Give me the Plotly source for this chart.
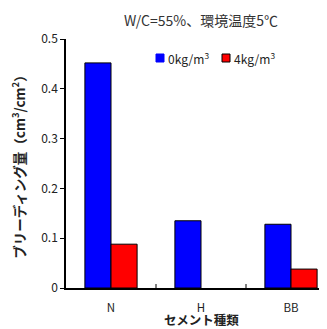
import plotly.graph_objects as go

categories = ["N", "H", "BB"]
series_0kg = [0.452, 0.135, 0.128]
series_4kg = [0.088, None, 0.038]
y_ticks = [0, 0.1, 0.2, 0.3, 0.4, 0.5]
y_tick_labels = ["0", "0.1", "0.2", "0.3", "0.4", "0.5"]
legend_labels = ["0kg/m<sup>3</sup>", "4kg/m<sup>3</sup>"]
x_title = "セメント種類"
colors = ["#0000FF", "#FF0000"]

font_main = "Noto Sans CJK JP, Noto Sans, sans-serif"

# page body has an 8px default margin; compensate so the plot lands where the reference has it
fig = go.Figure()
fig.add_trace(go.Bar(x=categories, y=series_0kg, name=legend_labels[0],
                     marker=dict(color=colors[0], line=dict(color="black", width=1))))
fig.add_trace(go.Bar(x=categories, y=series_4kg, name=legend_labels[1],
                     marker=dict(color=colors[1], line=dict(color="black", width=1))))

fig.update_layout(
    width=319, height=321,
    margin=dict(l=58, r=0, t=31, b=41, autoexpand=False),
    paper_bgcolor="white", plot_bgcolor="white",
    barmode="group", bargap=0.42, bargroupgap=0,
    font=dict(family=font_main, size=12, color="#222"),
    title=dict(text="W/C=55%、環境温度5℃", x=0.605, xanchor="center",
               y=1 - 13 / 321, yanchor="middle", font=dict(size=14, color="#333")),
    showlegend=False,
)
fig.update_xaxes(
    range=[-0.5, 2.4], showline=True, linecolor="black", linewidth=1.5,
    ticks="", showgrid=False, tickfont=dict(size=11.5), automargin=False,
    ticklabelstandoff=8,
)
fig.update_yaxes(
    range=[0, 0.5], tickvals=y_ticks, ticktext=y_tick_labels,
    showline=True, linecolor="black", linewidth=1.5, automargin=False,
    ticks="outside", ticklen=4, tickcolor="black", showgrid=False,
    zeroline=False, tickfont=dict(size=12),
    title=dict(text="<b>ブリーディング量（cm<sup>3</sup>/cm<sup>2</sup>）</b>",
               font=dict(size=13.5), standoff=14),
)
# x-axis title placed below the tick labels
fig.add_annotation(xref="x", yref="paper", x=1, y=(288 - 319.5) / 249,
                   xanchor="center", yanchor="middle", showarrow=False,
                   text="<b>" + x_title + "</b>", font=dict(size=12.5, color="#222"))

# category boundary ticks (inside, pointing up)
for xb in [0.5, 1.5]:
    fig.add_shape(type="line", xref="x", yref="paper", x0=xb, x1=xb, y0=0, y1=0.016,
                  line=dict(color="black", width=1))

# custom compact legend
leg_y = (288 - 58) / 249
leg_x0 = [(156 - 66) / 261, (222 - 66) / 261]
sq_w = 8 / 261
sq_h = 8 / 249
for i in range(2):
    fig.add_shape(type="rect", xref="paper", yref="paper",
                  x0=leg_x0[i], x1=leg_x0[i] + sq_w,
                  y0=leg_y - sq_h / 2, y1=leg_y + sq_h / 2,
                  fillcolor=colors[i],
                  line=dict(color="black" if i == 1 else colors[i], width=1))
    fig.add_annotation(xref="paper", yref="paper", x=leg_x0[i] + sq_w + 2 / 261,
                       y=leg_y, xanchor="left", yanchor="middle", showarrow=False,
                       text=legend_labels[i], font=dict(size=12, color="#222"))

fig.write_html("out.html")
